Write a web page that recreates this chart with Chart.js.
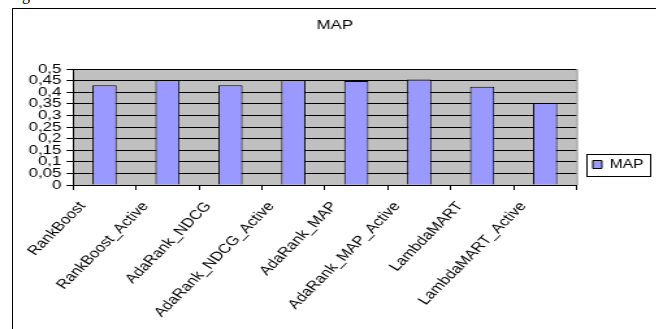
<!DOCTYPE html>
<html>
<head>
<meta charset="utf-8">
<script src="https://cdn.jsdelivr.net/npm/chart.js@4.4.1/dist/chart.umd.min.js"></script>
<style>
  html, body { margin: 0; padding: 0; background: #fff; overflow: hidden; width: 656px; height: 329px; }
  #frame { position: absolute; left: 12px; top: 8px; width: 643px; height: 400px; border: 1px solid #000; }
  #frag { position: absolute; left: 22px; top: -14px; font: 16px "Liberation Serif", serif; color: #000; }
  #c { position: absolute; left: 0; top: 0; transform: scaleX(1.3); transform-origin: 0 0; }
</style>
</head>
<body>
<div id="frag">g</div>
<div id="frame"></div>
<canvas id="c" width="520" height="329"></canvas>
<script>
const categories = ['RankBoost', 'RankBoost_Active', 'AdaRank_NDCG', 'AdaRank_NDCG_Active',
    'AdaRank_MAP', 'AdaRank_MAP_Active', 'LambdaMART', 'LambdaMART_Active'];
const mapValues = [0.43, 0.453, 0.43, 0.453, 0.448, 0.455, 0.424, 0.353];
const yTickLabels = ['0', '0,05', '0,1', '0,15', '0,2', '0,25', '0,3', '0,35', '0,4', '0,45', '0,5'];

Chart.defaults.color = '#000';
Chart.defaults.font.family = '"Liberation Sans", Arial, sans-serif';
Chart.defaults.font.size = 13;

// grey plot area, grey outline, and the box round the legend
const excelLook = {
    id: 'excelLook',
    beforeDraw(chart) {
        const a = chart.chartArea, ctx = chart.ctx;
        ctx.save();
        ctx.fillStyle = '#c0c0c0';
        ctx.fillRect(a.left, a.top, a.right - a.left, a.bottom - a.top);
        ctx.restore();
    },
    afterDraw(chart) {
        const a = chart.chartArea, ctx = chart.ctx;
        ctx.save();
        ctx.strokeStyle = '#808080';
        ctx.lineWidth = 1;
        ctx.beginPath();
        ctx.moveTo(a.right + 0.5, a.top);
        ctx.lineTo(a.right + 0.5, a.bottom);
        ctx.stroke();
        const hb = chart.legend.legendHitBoxes[0];
        if (hb) {
            const cy = hb.top + hb.height / 2;
            ctx.strokeStyle = '#000';
            ctx.strokeRect(Math.round(hb.left - 5) + 0.5, Math.round(cy - 11) + 0.5,
                Math.round(hb.width + 10), 22);
        }
        ctx.restore();
    }
};

new Chart(document.getElementById('c'), {
    type: 'bar',
    data: {
        labels: categories,
        datasets: [{
            label: 'MAP',
            data: mapValues,
            backgroundColor: '#9999ff',
            borderColor: '#000',
            borderWidth: 1,
            categoryPercentage: 1,
            barPercentage: 0.385
        }]
    },
    options: {
        responsive: false,
        animation: false,
        devicePixelRatio: 1,
        layout: { padding: { left: 10, right: 15, top: 0, bottom: 0 } },
        plugins: {
            title: {
                display: true,
                text: 'MAP',
                font: { size: 13, weight: 'normal' },
                padding: { top: 18, bottom: 35.4 }
            },
            legend: {
                position: 'right',
                labels: {
                    boxWidth: 7,
                    boxHeight: 8,
                    padding: 12.5,
                    font: { size: 12 },
                    generateLabels(chart) {
                        const ds = chart.data.datasets[0];
                        return [{
                            text: ds.label,
                            fillStyle: ds.backgroundColor,
                            strokeStyle: '#000',
                            lineWidth: 1,
                            datasetIndex: 0
                        }];
                    }
                }
            },
            tooltip: { enabled: false }
        },
        scales: {
            x: {
                afterFit(s) { s.height = 144; },
                grid: { drawOnChartArea: false, drawTicks: true, tickLength: 5, color: '#000', offset: true },
                border: { color: '#000' },
                ticks: { minRotation: 52, maxRotation: 52, autoSkip: false, padding: 9, labelOffset: -17, font: { size: 13 } }
            },
            y: {
                min: 0,
                max: 0.5,
                afterFit(s) { s.width = 46.2; },
                grid: { color: '#000', tickLength: 5 },
                border: { color: '#000' },
                ticks: {
                    stepSize: 0.05,
                    autoSkip: false,
                    padding: 4,
                    font: { size: 13 },
                    callback: (v, i) => yTickLabels[i]
                }
            }
        }
    },
    plugins: [excelLook]
});
</script>
</body>
</html>
